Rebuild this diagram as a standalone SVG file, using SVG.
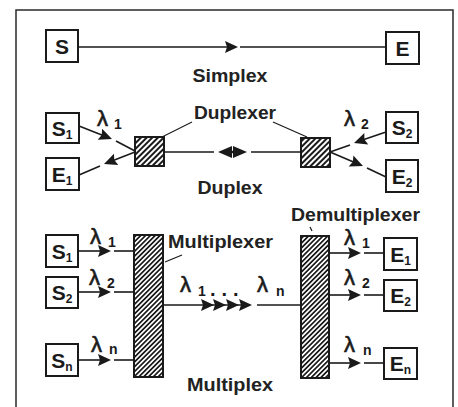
<svg xmlns="http://www.w3.org/2000/svg" width="458" height="407" viewBox="0 0 458 407">
<style>
.frame{fill:none;stroke:#2a2a2a;stroke-width:1.5}
.box{fill:#fff;stroke:#1a1a1a;stroke-width:2}
.hd{fill:url(#hatchD);stroke:#1a1a1a;stroke-width:2}
.hm{fill:url(#hatchM);stroke:#1a1a1a;stroke-width:2}
.ln{stroke:#1a1a1a;stroke-width:1.6;fill:none}
.ah{fill:#1a1a1a;stroke:none}
.lbl{font-family:"Liberation Sans",Arial,sans-serif;font-weight:bold;font-size:19px;fill:#222}
.bt{font-family:"Liberation Sans",Arial,sans-serif;font-weight:bold;font-size:21px;fill:#1a1a1a}
.bs{font-size:12px}
.lam{font-family:"Liberation Sans",Arial,sans-serif;font-size:22px;fill:#1a1a1a;stroke:#1a1a1a;stroke-width:0.6}
.ls{font-family:"Liberation Sans",Arial,sans-serif;font-weight:bold;font-size:14px;fill:#1a1a1a}
.dots{font-family:"Liberation Sans",Arial,sans-serif;font-weight:bold;font-size:20px;fill:#1a1a1a;letter-spacing:6px}
</style>
<defs>
<path id="ah" d="M0,0 L-13,-6 L-11,0 L-13,6 z" fill="#1a1a1a"/>
<path id="ahs" d="M0,0 L-14,-6 L-14,6 z" fill="#1a1a1a"/>
<pattern id="hatchD" patternUnits="userSpaceOnUse" width="4" height="4" patternTransform="rotate(45)">
<rect x="0" y="0" width="4" height="4" fill="#fff"/>
<rect x="0" y="0" width="2" height="4" fill="#1a1a1a"/>
</pattern>
<pattern id="hatchM" patternUnits="userSpaceOnUse" width="3.4" height="3.4" patternTransform="rotate(45)">
<rect x="0" y="0" width="3.4" height="3.4" fill="#fff"/>
<rect x="0" y="0" width="1.7" height="3.4" fill="#1a1a1a"/>
</pattern>
</defs>
<rect width="458" height="407" fill="#fff"/>
<path class="frame" d="M16,410 V10 H453 V410"/>

<g id="connectors">
<!-- simplex -->
<line class="ln" x1="78" y1="47" x2="230" y2="47"/>
<use href="#ah" transform="translate(238,47)"/>
<line class="ln" x1="240" y1="47" x2="386" y2="47"/>
<!-- duplex left -->
<line class="ln" x1="79" y1="126" x2="105" y2="136.3"/>
<use href="#ah" transform="translate(112,139) rotate(21.5)"/>
<line class="ln" x1="116" y1="141" x2="135" y2="151"/>
<line class="ln" x1="135" y1="152" x2="110" y2="161.7"/>
<use href="#ah" transform="translate(104,164) rotate(158.8)"/>
<line class="ln" x1="100" y1="166" x2="79" y2="175"/>
<!-- duplex trunk -->
<line class="ln" x1="164" y1="152" x2="214" y2="152"/>
<use href="#ahs" transform="translate(218,152) rotate(180)"/>
<use href="#ahs" transform="translate(247,152)"/>
<rect class="ah" x="231" y="150.8" width="3" height="2.4"/>
<line class="ln" x1="251" y1="152" x2="301" y2="152"/>
<!-- duplex right -->
<line class="ln" x1="386" y1="132" x2="361" y2="140.6"/>
<use href="#ah" transform="translate(354,143) rotate(161)"/>
<line class="ln" x1="350" y1="145" x2="330" y2="152"/>
<line class="ln" x1="330" y1="152" x2="357" y2="163.5"/>
<use href="#ah" transform="translate(363,166) rotate(23)"/>
<line class="ln" x1="367" y1="168" x2="386" y2="177"/>
<!-- duplexer leaders -->
<line class="ln" x1="162" y1="137" x2="192" y2="122" style="stroke-width:1.2"/>
<line class="ln" x1="273" y1="122" x2="307" y2="137" style="stroke-width:1.2"/>
<!-- multiplex inputs -->
<line class="ln" x1="78" y1="251" x2="104" y2="251"/><use href="#ah" transform="translate(111,251)"/>
<line class="ln" x1="114" y1="251" x2="134" y2="251"/>
<line class="ln" x1="78" y1="292" x2="104" y2="292"/><use href="#ah" transform="translate(111,292)"/>
<line class="ln" x1="114" y1="292" x2="134" y2="292"/>
<line class="ln" x1="78" y1="360" x2="104" y2="360"/><use href="#ah" transform="translate(111,360)"/>
<line class="ln" x1="114" y1="360" x2="134" y2="360"/>
<!-- multiplex trunk -->
<line class="ln" x1="163" y1="305" x2="250" y2="305"/>
<use href="#ah" transform="translate(214,305)"/>
<use href="#ah" transform="translate(226,305)"/>
<use href="#ah" transform="translate(239,305)"/>
<use href="#ah" transform="translate(252,305)"/>
<line class="ln" x1="257" y1="305" x2="301" y2="305"/>
<!-- demux outputs -->
<line class="ln" x1="329" y1="253" x2="354" y2="253"/><use href="#ah" transform="translate(361,253)"/>
<line class="ln" x1="364" y1="253" x2="384" y2="253"/>
<line class="ln" x1="329" y1="295" x2="354" y2="295"/><use href="#ah" transform="translate(361,295)"/>
<line class="ln" x1="364" y1="295" x2="384" y2="295"/>
<line class="ln" x1="329" y1="363" x2="354" y2="363"/><use href="#ah" transform="translate(361,363)"/>
<line class="ln" x1="364" y1="363" x2="384" y2="363"/>
<!-- mux leaders -->
<line class="ln" x1="165" y1="262" x2="182" y2="255" style="stroke-width:1.2"/>
<line class="ln" x1="310" y1="227" x2="312" y2="231" style="stroke-width:1.2"/>
</g>

<g id="simplex-S"><rect class="box" x="46" y="30" width="32" height="32"/><text class="bt" x="62" y="54" text-anchor="middle">S</text></g>
<g id="simplex-E"><rect class="box" x="386" y="32" width="33" height="32"/><text class="bt" x="402.5" y="56" text-anchor="middle">E</text></g>
<text class="lbl" x="230" y="82" text-anchor="middle" textLength="75" lengthAdjust="spacingAndGlyphs">Simplex</text>

<g id="duplex-S1"><rect class="box" x="46" y="113" width="33" height="30"/><text class="bt" x="62" y="136" text-anchor="middle">S<tspan class="bs" dy="3">1</tspan></text></g>
<g id="duplex-E1"><rect class="box" x="46" y="158" width="33" height="32"/><text class="bt" x="62" y="182" text-anchor="middle">E<tspan class="bs" dy="3">1</tspan></text></g>
<g id="duplex-S2"><rect class="box" x="386" y="112" width="32" height="31"/><text class="bt" x="402" y="135" text-anchor="middle">S<tspan class="bs" dy="3">2</tspan></text></g>
<g id="duplex-E2"><rect class="box" x="386" y="160" width="32" height="32"/><text class="bt" x="402" y="184" text-anchor="middle">E<tspan class="bs" dy="3">2</tspan></text></g>
<g id="duplexer-left"><rect class="hd" x="135" y="137" width="29" height="29"/></g>
<g id="duplexer-right"><rect class="hd" x="301" y="138" width="29" height="29"/></g>
<text class="lbl" x="235" y="119" text-anchor="middle" textLength="82" lengthAdjust="spacingAndGlyphs">Duplexer</text>
<text class="lbl" x="230" y="194" text-anchor="middle" textLength="65" lengthAdjust="spacingAndGlyphs">Duplex</text>
<text class="lam" x="97" y="126">λ</text><text class="ls" x="114" y="129">1</text>
<text class="lam" x="344" y="126">λ</text><text class="ls" x="361" y="129">2</text>

<g id="mux-S1"><rect class="box" x="46" y="235" width="32" height="32"/><text class="bt" x="62" y="259" text-anchor="middle">S<tspan class="bs" dy="3">1</tspan></text></g>
<g id="mux-S2"><rect class="box" x="46" y="277" width="32" height="31"/><text class="bt" x="62" y="300" text-anchor="middle">S<tspan class="bs" dy="3">2</tspan></text></g>
<g id="mux-Sn"><rect class="box" x="46" y="344" width="32" height="32"/><text class="bt" x="62" y="368" text-anchor="middle">S<tspan class="bs" dy="3">n</tspan></text></g>
<g id="multiplexer"><rect class="hm" x="134" y="235" width="29" height="142"/></g>
<g id="demultiplexer"><rect class="hm" x="301" y="236" width="28" height="142"/></g>
<g id="demux-E1"><rect class="box" x="384" y="238" width="33" height="32"/><text class="bt" x="400.5" y="262" text-anchor="middle">E<tspan class="bs" dy="3">1</tspan></text></g>
<g id="demux-E2"><rect class="box" x="384" y="280" width="33" height="31"/><text class="bt" x="400.5" y="303" text-anchor="middle">E<tspan class="bs" dy="3">2</tspan></text></g>
<g id="demux-En"><rect class="box" x="384" y="348" width="33" height="31"/><text class="bt" x="400.5" y="371" text-anchor="middle">E<tspan class="bs" dy="3">n</tspan></text></g>
<text class="lbl" x="168" y="248" textLength="105" lengthAdjust="spacingAndGlyphs">Multiplexer</text>
<text class="lbl" x="291" y="221" textLength="129" lengthAdjust="spacingAndGlyphs">Demultiplexer</text>
<text class="lbl" x="187" y="391" textLength="86" lengthAdjust="spacingAndGlyphs">Multiplex</text>

<text class="lam" x="90" y="244">λ</text><text class="ls" x="108" y="247">1</text>
<text class="lam" x="89" y="285">λ</text><text class="ls" x="107" y="288">2</text>
<text class="lam" x="91" y="352">λ</text><text class="ls" x="109" y="354">n</text>
<text class="lam" x="344" y="245">λ</text><text class="ls" x="362" y="248">1</text>
<text class="lam" x="344" y="285">λ</text><text class="ls" x="362" y="288">2</text>
<text class="lam" x="344" y="352">λ</text><text class="ls" x="363" y="355">n</text>
<text class="lam" x="180" y="292">λ</text><text class="ls" x="198" y="296">1</text>
<text class="dots" x="210" y="296">...</text>
<text class="lam" x="257" y="292">λ</text><text class="ls" x="276" y="296">n</text>
</svg>
